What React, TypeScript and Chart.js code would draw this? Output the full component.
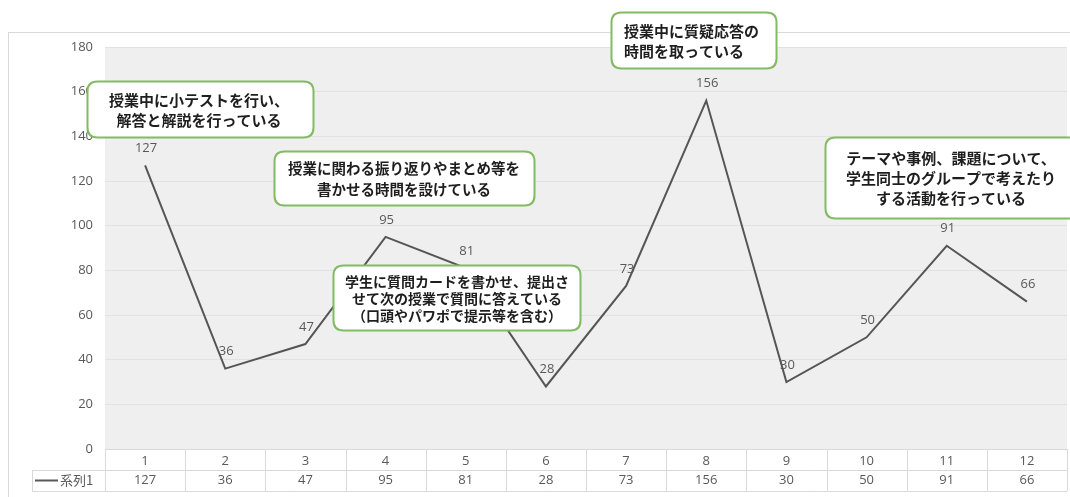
import React, { useEffect, useRef } from 'react';
import { Chart, registerables } from 'chart.js';

Chart.register(...registerables);

const categories = ['1', '2', '3', '4', '5', '6', '7', '8', '9', '10', '11', '12'];
const values = [127, 36, 47, 95, 81, 28, 73, 156, 30, 50, 91, 66];
const seriesName = '系列1';
const yMin = 0;
const yMax = 180;
const yStep = 20;

const calloutTexts = [
  ['授業中に小テストを行い、', '解答と解説を行っている'],
  ['授業に関わる振り返りやまとめ等を', '書かせる時間を設けている'],
  ['学生に質問カードを書かせ、提出さ', 'せて次の授業で質問に答えている', '（口頭やパワポで提示等を含む）'],
  ['授業中に質疑応答の', '時間を取っている'],
  ['テーマや事例、課題について、', '学生同士のグループで考えたり', 'する活動を行っている'],
];

const GRAY = '#595959';
const LINE_GRAY = '#d9d9d9';
const NUM_FONT = '"Open Sans", "Liberation Sans", sans-serif';
const JP_FONT = '"Noto Sans CJK JP", sans-serif';

// layout of the callout boxes (pixels on canvas)
const calloutLayout = [
  { x: 87, y: 81, w: 226, h: 56, size: 15, lh: 20, align: 'center', tx: 199 },
  { x: 274, y: 151, w: 260, h: 54, size: 14.5, lh: 21, align: 'center', tx: 404 },
  { x: 333, y: 265, w: 247, h: 65, size: 14, lh: 17, align: 'center', tx: 457 },
  { x: 611, y: 12, w: 165, h: 56, size: 15, lh: 20, align: 'left', tx: 624 },
  { x: 825, y: 137, w: 262, h: 81, size: 15, lh: 20, align: 'center', tx: 951 },
];

function roundRect(ctx: CanvasRenderingContext2D, x: number, y: number, w: number, h: number, r: number) {
  ctx.beginPath();
  ctx.moveTo(x + r, y);
  ctx.lineTo(x + w - r, y);
  ctx.quadraticCurveTo(x + w, y, x + w, y + r);
  ctx.lineTo(x + w, y + h - r);
  ctx.quadraticCurveTo(x + w, y + h, x + w - r, y + h);
  ctx.lineTo(x + r, y + h);
  ctx.quadraticCurveTo(x, y + h, x, y + h - r);
  ctx.lineTo(x, y + r);
  ctx.quadraticCurveTo(x, y, x + r, y);
  ctx.closePath();
}

const backgroundPlugin = {
  id: 'bgPlugin',
  beforeDraw(chart: any) {
    const { ctx, chartArea } = chart;
    ctx.save();
    ctx.fillStyle = '#ffffff';
    ctx.fillRect(0, 0, chart.width, chart.height);
    ctx.strokeStyle = LINE_GRAY;
    ctx.lineWidth = 1;
    ctx.strokeRect(8.5, 32.5, chart.width + 10, chart.height + 10);
    ctx.fillStyle = '#efefef';
    ctx.fillRect(chartArea.left, chartArea.top, chartArea.right - chartArea.left, chartArea.bottom - chartArea.top);
    ctx.restore();
  },
};

const labelPlugin = {
  id: 'labelPlugin',
  beforeDatasetsDraw(chart: any) {
    const { ctx } = chart;
    const meta = chart.getDatasetMeta(0);
    ctx.save();
    ctx.font = `13px ${NUM_FONT}`;
    ctx.fillStyle = GRAY;
    ctx.textAlign = 'center';
    ctx.textBaseline = 'middle';
    meta.data.forEach((pt: any, i: number) => {
      ctx.fillText(String(values[i]), pt.x + 1, pt.y - 17);
    });
    ctx.restore();
  },
};

const tablePlugin = {
  id: 'tablePlugin',
  afterDraw(chart: any) {
    const { ctx, chartArea } = chart;
    const xs = chart.scales.x;
    const { left, right, bottom } = chartArea;
    const row1 = bottom + 21;
    const row2 = bottom + 42;
    const legendLeft = 32;
    ctx.save();
    ctx.strokeStyle = LINE_GRAY;
    ctx.lineWidth = 1;
    ctx.beginPath();
    ctx.moveTo(left, bottom + 0.5);
    ctx.lineTo(right, bottom + 0.5);
    ctx.moveTo(legendLeft, row1 + 0.5);
    ctx.lineTo(right, row1 + 0.5);
    ctx.moveTo(legendLeft, row2 + 0.5);
    ctx.lineTo(right, row2 + 0.5);
    ctx.moveTo(legendLeft + 0.5, row1);
    ctx.lineTo(legendLeft + 0.5, row2);
    const n = categories.length;
    for (let i = 0; i <= n; i++) {
      const px = Math.round(left + (i * (right - left)) / n) + 0.5;
      ctx.moveTo(px, bottom);
      ctx.lineTo(px, row2);
    }
    ctx.stroke();

    ctx.font = `13px ${NUM_FONT}`;
    ctx.fillStyle = GRAY;
    ctx.textAlign = 'center';
    ctx.textBaseline = 'middle';
    values.forEach((v, i) => {
      ctx.fillText(String(v), xs.getPixelForValue(i), row1 + 10.5);
    });

    // legend key
    ctx.strokeStyle = GRAY;
    ctx.lineWidth = 2;
    ctx.beginPath();
    ctx.moveTo(35, row1 + 10.5);
    ctx.lineTo(58, row1 + 10.5);
    ctx.stroke();
    ctx.font = `13px ${JP_FONT}`;
    ctx.textAlign = 'left';
    ctx.fillText(seriesName, 60, row1 + 10.5);
    ctx.restore();
  },
};

const calloutPlugin = {
  id: 'calloutPlugin',
  afterDatasetsDraw(chart: any) {
    const { ctx } = chart;
    ctx.save();
    calloutLayout.forEach((c, idx) => {
      roundRect(ctx, c.x + 0.5, c.y + 0.5, c.w, c.h, 10);
      ctx.fillStyle = '#ffffff';
      ctx.fill();
      ctx.strokeStyle = '#82bb62';
      ctx.lineWidth = 2;
      ctx.stroke();
      const lines = calloutTexts[idx];
      ctx.font = `bold ${c.size}px ${JP_FONT}`;
      ctx.fillStyle = '#1e1e1e';
      ctx.textAlign = c.align as CanvasTextAlign;
      ctx.textBaseline = 'middle';
      const cy = c.y + c.h / 2 + 1;
      const start = cy - ((lines.length - 1) * c.lh) / 2;
      lines.forEach((t, j) => ctx.fillText(t, c.tx, start + j * c.lh));
    });
    ctx.restore();
  },
};

export default function App() {
  const ref = useRef<HTMLCanvasElement | null>(null);
  useEffect(() => {
    if (!ref.current) return;
    const chart = new Chart(ref.current, {
      type: 'line',
      data: {
        labels: categories,
        datasets: [
          {
            label: seriesName,
            data: values,
            borderColor: '#555555',
            borderWidth: 2,
            pointRadius: 0,
            tension: 0,
            fill: false,
          },
        ],
      },
      options: {
        responsive: false,
        animation: false,
        layout: { padding: { top: 47, right: 3, left: 0, bottom: 0 } },
        plugins: {
          legend: { display: false },
          tooltip: { enabled: false },
        },
        scales: {
          x: {
            offset: true,
            grid: { display: false, drawTicks: false },
            border: { display: false },
            ticks: {
              color: GRAY,
              font: { family: NUM_FONT, size: 13 },
              padding: 4,
              maxRotation: 0,
              autoSkip: false,
            },
            afterFit: (s: any) => {
              s.height = 48;
            },
          },
          y: {
            min: yMin,
            max: yMax,
            grid: { color: '#e2e2e2', drawTicks: false },
            border: { display: false },
            ticks: {
              stepSize: yStep,
              color: GRAY,
              padding: 12,
              font: { family: NUM_FONT, size: 13 },
            },
            afterFit: (s: any) => {
              s.width = 105;
            },
          },
        },
      },
      plugins: [backgroundPlugin, labelPlugin, calloutPlugin, tablePlugin],
    });
    return () => chart.destroy();
  }, []);
  return (
    <div style={{ position: 'fixed', left: 0, top: 0, width: 1070, height: 497 }}>
      <canvas ref={ref} width={1070} height={497} style={{ width: 1070, height: 497, display: 'block' }} />
    </div>
  );
}
